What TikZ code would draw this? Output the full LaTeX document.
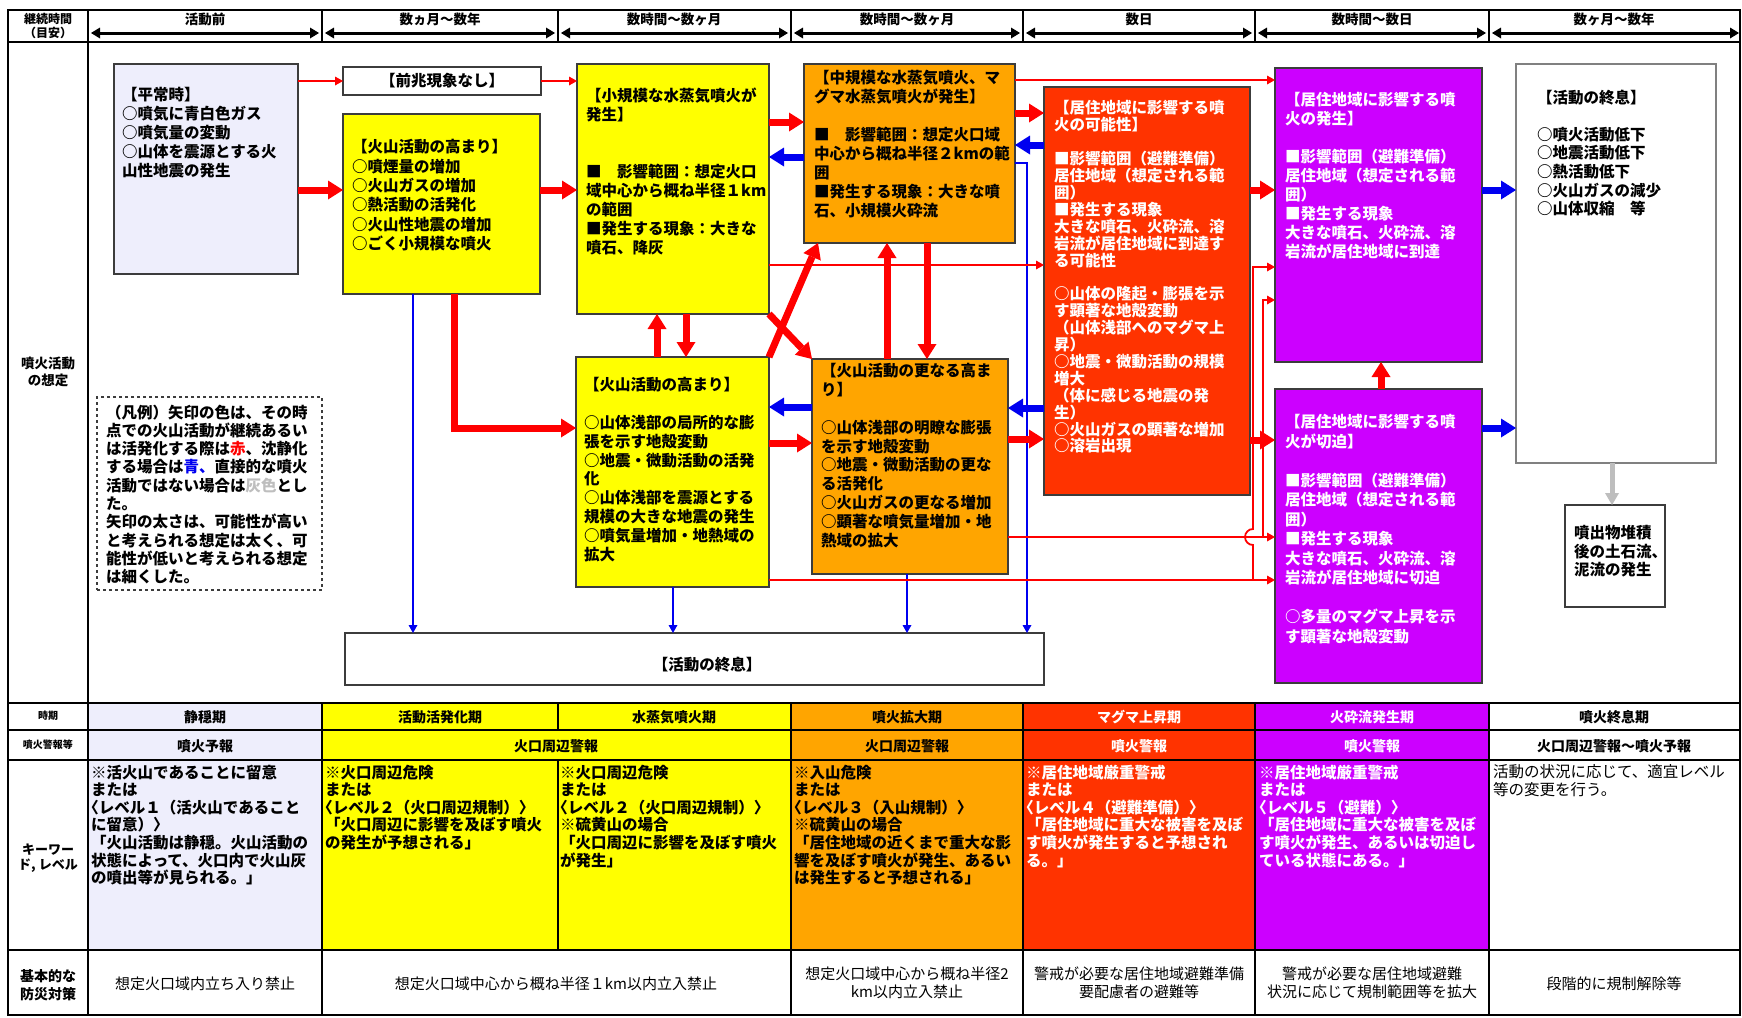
\documentclass[tikz,border=0pt]{standalone}
\usepackage{fontspec}
\setmainfont{Noto Sans CJK JP}
\usetikzlibrary{arrows.meta}
\definecolor{lav}{RGB}{238,238,252}
\definecolor{volyel}{RGB}{255,255,0}
\definecolor{volora}{RGB}{255,165,0}
\definecolor{volred}{RGB}{255,51,0}
\definecolor{volpur}{RGB}{204,0,255}
\definecolor{arrred}{RGB}{255,0,0}
\definecolor{arrblue}{RGB}{0,0,240}
\definecolor{arrgray}{RGB}{190,190,190}
\definecolor{boxline}{RGB}{60,60,60}
\newcommand{\lbr}{\hspace*{-0.5em}〈}
\begin{document}
\begin{tikzpicture}[x=1pt,y=-1pt,
 fbox/.style={draw=boxline, line width=1.3pt, inner sep=0pt, outer sep=0pt, anchor=north west},
 btext/.style={anchor=north west, inner sep=0pt, align=left, font=\bfseries\fontsize{15.5}{19}\selectfont},
 ctext/.style={inner sep=0pt, align=center, font=\bfseries\fontsize{14}{16}\selectfont},
 ktext/.style={anchor=north west, inner sep=0pt, align=left, font=\bfseries\fontsize{15.5}{17.6}\selectfont},
 ptext/.style={inner sep=0pt, align=center, font=\fontsize{15}{18}\selectfont},
 tr/.style={draw=arrred, line width=1.8pt, -{Triangle[length=8pt,width=9pt,line width=0pt]}},
 TR/.style={draw=arrred, line width=7pt, -{Triangle[length=15pt,width=19pt,line width=0pt]}},
 tb/.style={draw=arrblue, line width=1.8pt, -{Triangle[length=8pt,width=9pt,line width=0pt]}},
 TB/.style={draw=arrblue, line width=7pt, -{Triangle[length=15pt,width=19pt,line width=0pt]}},
 TG/.style={draw=arrgray, line width=5pt, -{Triangle[length=12pt,width=14pt,line width=0pt]}},
 hdr/.style={line width=3pt, {Triangle[length=9pt,width=11pt,line width=0pt]}-{Triangle[length=9pt,width=11pt,line width=0pt]}}
]
\useasboundingbox (0,0) rectangle (1742,1017);
\fill[white] (0,0) rectangle (1742,1017);

% ---------- table backgrounds ----------
\fill[lav] (88,703) rectangle (322,950);
\fill[volyel] (322,703) rectangle (791,950);
\fill[volora] (791,703) rectangle (1023,950);
\fill[volred] (1023,703) rectangle (1255,950);
\fill[volpur] (1255,703) rectangle (1489,950);

% ---------- table lines ----------
\draw[line width=2.2pt] (8,10) rectangle (1740,1015);
\draw[line width=2.5pt] (8,42) -- (1740,42);
\draw[line width=2pt] (88,10) -- (88,1015);
\foreach \xx in {322,558,791,1023,1255,1489} \draw[line width=1.5pt] (\xx,10) -- (\xx,42);
\draw[line width=2.5pt] (8,703) -- (1740,703);
\draw[line width=1.5pt] (8,730) -- (1740,730);
\draw[line width=2.5pt] (8,760) -- (1740,760);
\draw[line width=2.5pt] (8,950) -- (1740,950);
\foreach \xx in {322,791,1023,1255,1489} \draw[line width=1.5pt] (\xx,703) -- (\xx,1015);
\draw[line width=1.5pt] (558,703) -- (558,730);
\draw[line width=1.5pt] (558,760) -- (558,950);

% ---------- header ----------
\node[ctext, font=\bfseries\fontsize{12}{14}\selectfont] (hd0) at (48,26) {継続時間\\（目安）};
\node[ctext, font=\bfseries\fontsize{13.5}{15}\selectfont] (hd1) at (205,19) {活動前};
\node[ctext, font=\bfseries\fontsize{13.5}{15}\selectfont] (hd2) at (440,19) {数ヵ月～数年};
\node[ctext, font=\bfseries\fontsize{13.5}{15}\selectfont] (hd3) at (674,19) {数時間～数ヶ月};
\node[ctext, font=\bfseries\fontsize{13.5}{15}\selectfont] (hd4) at (907,19) {数時間～数ヶ月};
\node[ctext, font=\bfseries\fontsize{13.5}{15}\selectfont] (hd5) at (1139,19) {数日};
\node[ctext, font=\bfseries\fontsize{13.5}{15}\selectfont] (hd6) at (1372,19) {数時間～数日};
\node[ctext, font=\bfseries\fontsize{13.5}{15}\selectfont] (hd7) at (1614,19) {数ヶ月～数年};
\draw[hdr] (91,33) -- (319,33);
\draw[hdr] (325,33) -- (555,33);
\draw[hdr] (561,33) -- (788,33);
\draw[hdr] (794,33) -- (1020,33);
\draw[hdr] (1026,33) -- (1252,33);
\draw[hdr] (1258,33) -- (1486,33);
\draw[hdr] (1492,33) -- (1739,33);

% ---------- row labels ----------
\node[ctext, font=\bfseries\fontsize{13.5}{17}\selectfont] (rl1) at (48,372) {噴火活動\\の想定};
\node[ctext, font=\bfseries\fontsize{10}{12}\selectfont] (rl2) at (48,716) {時期};
\node[ctext, font=\bfseries\fontsize{10}{12}\selectfont] (rl3) at (48,745) {噴火警報等};
\node[ctext, font=\bfseries\fontsize{13}{15}\selectfont] (rl4) at (48,858) {キーワー\\ド, レベル};
\node[ctext, font=\bfseries\fontsize{14}{18}\selectfont] (rl5) at (48,985) {基本的な\\防災対策};

% ---------- period row ----------
\node[ctext] (p1) at (205,717) {静穏期};
\node[ctext] (p2) at (440,717) {活動活発化期};
\node[ctext] (p3) at (674,717) {水蒸気噴火期};
\node[ctext] (p4) at (907,717) {噴火拡大期};
\node[ctext, text=white] (p5) at (1139,717) {マグマ上昇期};
\node[ctext, text=white] (p6) at (1372,717) {火砕流発生期};
\node[ctext] (p7) at (1614,717) {噴火終息期};

% ---------- warning row ----------
\node[ctext] (w1) at (205,746) {噴火予報};
\node[ctext] (w2) at (556,746) {火口周辺警報};
\node[ctext] (w4) at (907,746) {火口周辺警報};
\node[ctext, text=white] (w5) at (1139,746) {噴火警報};
\node[ctext, text=white] (w6) at (1372,746) {噴火警報};
\node[ctext] (w7) at (1614,746) {火口周辺警報～噴火予報};

% ---------- keyword row ----------
\node[ktext] (k1) at (91,764.5) {※活火山であることに留意\\または\\\lbr レベル１（活火山であること\\に留意）〉\\「火山活動は静穏。火山活動の\\状態によって、火口内で火山灰\\の噴出等が見られる。」};
\node[ktext] (k2) at (325,764.5) {※火口周辺危険\\または\\\lbr レベル２（火口周辺規制）〉\\「火口周辺に影響を及ぼす噴火\\の発生が予想される」};
\node[ktext] (k3) at (560,764.5) {※火口周辺危険\\または\\\lbr レベル２（火口周辺規制）〉\\※硫黄山の場合\\「火口周辺に影響を及ぼす噴火\\が発生」};
\node[ktext] (k4) at (794,764.5) {※入山危険\\または\\\lbr レベル３（入山規制）〉\\※硫黄山の場合\\「居住地域の近くまで重大な影\\響を及ぼす噴火が発生、あるい\\は発生すると予想される」};
\node[ktext, text=white] (k5) at (1026,764.5) {※居住地域厳重警戒\\または\\\lbr レベル４（避難準備）〉\\「居住地域に重大な被害を及ぼ\\す噴火が発生すると予想され\\る。」};
\node[ktext, text=white] (k6) at (1259,764.5) {※居住地域厳重警戒\\または\\\lbr レベル５（避難）〉\\「居住地域に重大な被害を及ぼ\\す噴火が発生、あるいは切迫し\\ている状態にある。」};
\node[ktext, font=\fontsize{15.5}{17.6}\selectfont] (k7) at (1493,764.5) {活動の状況に応じて、適宜レベル\\等の変更を行う。};

% ---------- countermeasure row ----------
\node[ptext] (c1) at (205,984) {想定火口域内立ち入り禁止};
\node[ptext] (c2) at (556,984) {想定火口域中心から概ね半径１km以内立入禁止};
\node[ptext] (c4) at (907,983) {想定火口域中心から概ね半径2\\km以内立入禁止};
\node[ptext] (c5) at (1139,983) {警戒が必要な居住地域避難準備\\要配慮者の避難等};
\node[ptext] (c6) at (1372,983) {警戒が必要な居住地域避難\\状況に応じて規制範囲等を拡大};
\node[ptext] (c7) at (1614,984) {段階的に規制解除等};

% ---------- flow boxes ----------
\node[fbox, fill=lav, minimum width=184pt, minimum height=210pt] (heijo) at (114,64) {};
\node[fbox, fill=white, minimum width=198pt, minimum height=28pt] (zencho) at (343,67) {};
\node[fbox, fill=volyel, minimum width=197pt, minimum height=180pt] (takamari1) at (343,114) {};
\node[fbox, fill=volyel, minimum width=192pt, minimum height=250pt] (shokibo) at (577,64) {};
\node[fbox, fill=volora, minimum width=211pt, minimum height=179pt] (chukibo) at (804,64) {};
\node[fbox, fill=volred, minimum width=206pt, minimum height=408pt] (kanou) at (1044,87) {};
\node[fbox, fill=volpur, minimum width=207pt, minimum height=294pt] (hassei) at (1275,68) {};
\node[fbox, fill=volpur, minimum width=207pt, minimum height=294pt] (seppaku) at (1275,389) {};
\node[fbox, fill=white, draw=gray, minimum width=200pt, minimum height=399pt] (shusoku1) at (1516,64) {};
\node[fbox, fill=white, minimum width=100pt, minimum height=102pt] (doseki) at (1565,505) {};
\node[fbox, fill=volyel, minimum width=193pt, minimum height=230pt] (takamari2) at (576,357) {};
\node[fbox, fill=volora, minimum width=196pt, minimum height=215pt] (sarani) at (812,359) {};
\node[fbox, fill=white, minimum width=699pt, minimum height=52pt] (shusoku2) at (345,633) {};
\node[fbox, fill=white, dashed, line width=1.5pt, minimum width=225pt, minimum height=193pt] (legend) at (97,397) {};

% ---------- box texts ----------
\node[btext] (heijoT) at (122,87.5) {【平常時】\\○噴気に青白色ガス\\○噴気量の変動\\○山体を震源とする火\\山性地震の発生};
\node[btext, anchor=center] (zenchoT) at (zencho.center) {【前兆現象なし】};
\node[btext, font=\bfseries\fontsize{15.5}{19.3}\selectfont] (takamari1T) at (352,139.5) {【火山活動の高まり】\\○噴煙量の増加\\○火山ガスの増加\\○熱活動の活発化\\○火山性地震の増加\\○ごく小規模な噴火};
\node[btext] (shokiboT) at (586,87.5) {【小規模な水蒸気噴火が\\発生】\\~\\~\\■　影響範囲：想定火口\\域中心から概ね半径１km\\の範囲\\■発生する現象：大きな\\噴石、降灰};
\node[btext] (chukiboT) at (814,69.5) {【中規模な水蒸気噴火、マ\\グマ水蒸気噴火が発生】\\~\\■　影響範囲：想定火口域\\中心から概ね半径２kmの範\\囲\\■発生する現象：大きな噴\\石、小規模火砕流};
\node[btext, text=white, font=\bfseries\fontsize{15.5}{16.9}\selectfont] (kanouT) at (1054,100.5) {【居住地域に影響する噴\\火の可能性】\\~\\■影響範囲（避難準備）\\居住地域（想定される範\\囲）\\■発生する現象\\大きな噴石、火砕流、溶\\岩流が居住地域に到達す\\る可能性\\~\\○山体の隆起・膨張を示\\す顕著な地殻変動\\（山体浅部へのマグマ上\\昇）\\○地震・微動活動の規模\\増大\\（体に感じる地震の発\\生）\\○火山ガスの顕著な増加\\○溶岩出現};
\node[btext, text=white] (hasseiT) at (1285,92.5) {【居住地域に影響する噴\\火の発生】\\~\\■影響範囲（避難準備）\\居住地域（想定される範\\囲）\\■発生する現象\\大きな噴石、火砕流、溶\\岩流が居住地域に到達};
\node[btext, text=white, font=\bfseries\fontsize{15.5}{19.5}\selectfont] (seppakuT) at (1285,414.5) {【居住地域に影響する噴\\火が切迫】\\~\\■影響範囲（避難準備）\\居住地域（想定される範\\囲）\\■発生する現象\\大きな噴石、火砕流、溶\\岩流が居住地域に切迫\\~\\○多量のマグマ上昇を示\\す顕著な地殻変動};
\node[btext, font=\bfseries\fontsize{15.5}{18.6}\selectfont] (shusoku1T) at (1537,89.5) {【活動の終息】\\~\\○噴火活動低下\\○地震活動低下\\○熱活動低下\\○火山ガスの減少\\○山体収縮　等};
\node[btext, font=\bfseries\fontsize{15.5}{18.5}\selectfont] (dosekiT) at (1574,525.5) {噴出物堆積\\後の土石流、\\泥流の発生};
\node[btext, font=\bfseries\fontsize{15.5}{18.8}\selectfont] (takamari2T) at (584,377.5) {【火山活動の高まり】\\~\\○山体浅部の局所的な膨\\張を示す地殻変動\\○地震・微動活動の活発\\化\\○山体浅部を震源とする\\規模の大きな地震の発生\\○噴気量増加・地熱域の\\拡大};
\node[btext, font=\bfseries\fontsize{15.5}{18.8}\selectfont] (saraniT) at (821,363.5) {【火山活動の更なる高ま\\り】\\~\\○山体浅部の明瞭な膨張\\を示す地殻変動\\○地震・微動活動の更な\\る活発化\\○火山ガスの更なる増加\\○顕著な噴気量増加・地\\熱域の拡大};
\node[btext, anchor=center] (shusoku2T) at (707,665) {【活動の終息】};
\node[btext, font=\bfseries\fontsize{15.5}{18.3}\selectfont] (legendT) at (106,404.5) {（凡例）矢印の色は、その時\\点での火山活動が継続あるい\\は活発化する際は\textcolor{arrred}{赤}、沈静化\\する場合は\textcolor{arrblue}{青、}直接的な噴火\\活動ではない場合は\textcolor{arrgray}{灰色}とし\\た。\\矢印の太さは、可能性が高い\\と考えられる想定は太く、可\\能性が低いと考えられる想定\\は細くした。};

% ---------- connectors ----------
\draw[tr] (heijo.east |- zencho.west) -- (zencho.west);
\draw[tr] (zencho.east) -- (shokibo.west |- zencho.east);
\draw[TR] (heijo.east |- 0,190) -- (takamari1.west |- 0,190);
\draw[TR] (takamari1.east |- 0,190) -- (shokibo.west |- 0,190);
\draw[tb] (takamari1.south -| 413,0) -- (shusoku2.north -| 413,0);
\draw[TR] (takamari1.south -| 454,0) |- (takamari2.west |- 0,428);
\draw[TR] (shokibo.east |- 0,122) -- (chukibo.west |- 0,122);
\draw[TB] (chukibo.west |- 0,157) -- (shokibo.east |- 0,157);
\draw[TR] (chukibo.east |- 0,113) -- (kanou.west |- 0,113);
\draw[TB] (kanou.west |- 0,145) -- (chukibo.east |- 0,145);
\draw[tr] (chukibo.east |- 0,80) -- (hassei.west |- 0,80);
\draw[tb] (chukibo.east |- 0,163) -| (shusoku2.north -| 1027,0);
\draw[tr] (shokibo.east |- 0,265) -- (kanou.west |- 0,265);
\draw[TR] (takamari2.north -| 657,0) -- (shokibo.south -| 657,0);
\draw[TR] (shokibo.south -| 686,0) -- (takamari2.north -| 686,0);
\draw[TR] (shokibo.south east) -- (sarani.north west);
\draw[TR] (takamari2.north east) -- (chukibo.south -| 818,0);
\draw[TR] (sarani.north -| 887,0) -- (chukibo.south -| 887,0);
\draw[TR] (chukibo.south -| 927,0) -- (sarani.north -| 927,0);
\draw[TB] (sarani.west |- 0,407) -- (takamari2.east |- 0,407);
\draw[TR] (takamari2.east |- 0,443) -- (sarani.west |- 0,443);
\draw[tb] (takamari2.south -| 673,0) -- (shusoku2.north -| 673,0);
\draw[tb] (sarani.south -| 907,0) -- (shusoku2.north -| 907,0);
\draw[TB] (kanou.west |- 0,408) -- (sarani.east |- 0,408);
\draw[TR] (sarani.east |- 0,439) -- (kanou.west |- 0,439);
\draw[tr] (sarani.east |- 0,537) -- (seppaku.west |- 0,537);
\draw[tr] (takamari2.east |- 0,580) -- (seppaku.west |- 0,580);
\coordinate (br1) at (1253,580);
\coordinate (br2) at (1263,537);
\draw[tr] (br1) -- (1253,545) arc[start angle=270, end angle=90, radius=8pt] -- (1253,267) -- (hassei.west |- 0,267);
\draw[tr] (br2) |- (hassei.west |- 0,300);
\draw[TR] (kanou.east |- 0,190) -- (hassei.west |- 0,190);
\draw[TR] (kanou.east |- 0,440) -- (seppaku.west |- 0,440);
\draw[TR] (seppaku.north -| 1381,0) -- (hassei.south -| 1381,0);
\draw[TB] (hassei.east |- 0,190) -- (shusoku1.west |- 0,190);
\draw[TB] (seppaku.east |- 0,428) -- (shusoku1.west |- 0,428);
\draw[TG] (shusoku1.south -| 1612,0) -- (doseki.north -| 1612,0);
\end{tikzpicture}
\end{document}
